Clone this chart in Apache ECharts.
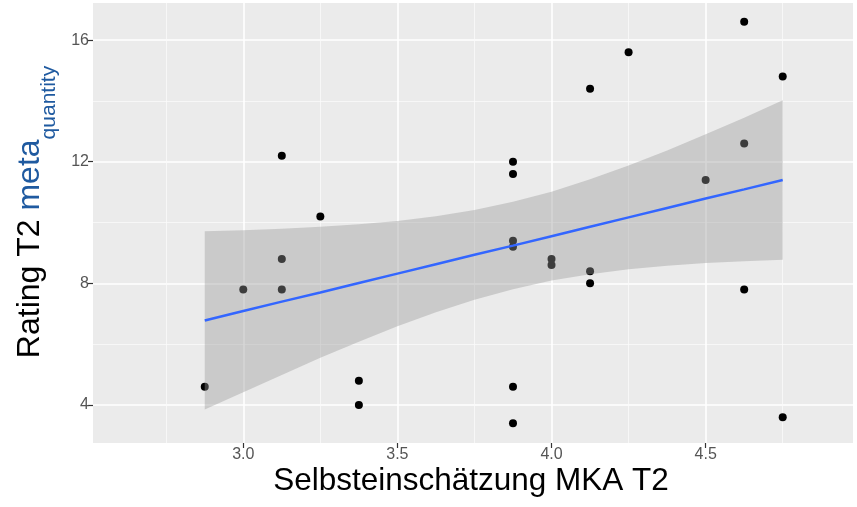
<!DOCTYPE html>
<html>
<head>
<meta charset="utf-8">
<script src="https://cdn.jsdelivr.net/npm/echarts@6/dist/echarts.min.js"></script>
<style>
  html, body { margin: 0; padding: 0; background: #fff; }
  #chart { width: 857px; height: 507px; }
</style>
</head>
<body>
<div id="chart"></div>
<script>
// raw observations (Selbsteinschätzung vs. Rating)
const selfRating = [2.875, 3.0, 3.125, 3.125, 3.125, 3.25, 3.375, 3.375,
  3.875, 3.875, 3.875, 3.875, 3.875, 3.875, 4.0, 4.0, 4.125, 4.125, 4.125,
  4.25, 4.5, 4.625, 4.625, 4.625, 4.75, 4.75];
const ratingT2 = [4.6, 7.8, 12.2, 8.8, 7.8, 10.2, 4.8, 4.0,
  12.0, 11.6, 9.4, 9.2, 4.6, 3.4, 8.8, 8.6, 14.4, 8.4, 8.0,
  15.6, 11.4, 16.6, 12.6, 7.8, 14.8, 3.6];

// regression line + confidence band
const fitX = [2.875, 3.0, 3.125, 3.25, 3.375, 3.5, 3.625, 3.75, 3.875, 4.0, 4.125, 4.25, 4.375, 4.5, 4.625, 4.75];
const fitY = [6.78, 7.09, 7.40, 7.70, 8.01, 8.32, 8.63, 8.94, 9.24, 9.55, 9.86, 10.17, 10.48, 10.79, 11.09, 11.40];
const bandLower = [3.85, 4.42, 4.99, 5.55, 6.08, 6.59, 7.05, 7.46, 7.81, 8.09, 8.30, 8.46, 8.58, 8.67, 8.73, 8.78];
const bandUpper = [9.71, 9.75, 9.80, 9.86, 9.94, 10.05, 10.21, 10.41, 10.68, 11.01, 11.42, 11.88, 12.37, 12.90, 13.45, 14.02];

const xMajor = [3.0, 3.5, 4.0, 4.5];
const xMinor = [2.75, 3.25, 3.75, 4.25, 4.75];
const yMajor = [4, 8, 12, 16];
const yMinor = [6, 10, 14];

const chart = echarts.init(document.getElementById('chart'));

const FONT = '"Liberation Sans", Arial, sans-serif';
const xRange = { min: 2.5125, max: 4.978 };
const yRange = { min: 2.75, max: 17.22 };

const majorAxis = (custom, fmt) => ({
  type: 'value',
  ...custom.range,
  axisLine: { show: false },
  axisTick: { show: true, customValues: custom.ticks, length: 5, lineStyle: { color: '#333', width: 1.2 } },
  axisLabel: { customValues: custom.ticks, formatter: fmt, color: '#555', fontSize: 16, fontFamily: FONT, margin: 4 },
  splitLine: { show: true, lineStyle: { color: '#fff', width: 1.6 } }
});
const minorAxis = (custom) => ({
  type: 'value',
  ...custom.range,
  axisLine: { show: false },
  axisTick: { show: false, customValues: custom.ticks },
  axisLabel: { show: false, customValues: custom.ticks },
  splitLine: { show: true, lineStyle: { color: '#fafafa', width: 0.8 } }
});

const points = selfRating.map((x, i) => [x, ratingT2[i]]);
const fitLine = fitX.map((x, i) => [x, fitY[i]]);

chart.setOption({
  animation: false,
  backgroundColor: '#fff',
  grid: {
    left: 93, right: 4, top: 3, bottom: 64,
    show: true, backgroundColor: '#ebebeb', borderWidth: 0
  },
  xAxis: [
    majorAxis({ range: xRange, ticks: xMajor }, v => v.toFixed(1)),
    minorAxis({ range: xRange, ticks: xMinor })
  ],
  yAxis: [
    majorAxis({ range: yRange, ticks: yMajor }, v => String(v)),
    minorAxis({ range: yRange, ticks: yMinor })
  ],
  series: [
    {
      type: 'scatter',
      data: points,
      symbolSize: 8,
      itemStyle: { color: '#000', opacity: 1 },
      z: 2
    },
    {
      type: 'custom',
      data: [[fitX[0], bandLower[0]]],
      renderItem: (params, api) => {
        const upper = fitX.map((x, i) => api.coord([x, bandUpper[i]]));
        const lower = fitX.map((x, i) => api.coord([x, bandLower[i]])).reverse();
        return {
          type: 'polygon',
          shape: { points: upper.concat(lower) },
          style: { fill: 'rgba(153,153,153,0.4)', stroke: null }
        };
      },
      silent: true,
      z: 3
    },
    {
      type: 'line',
      data: fitLine,
      showSymbol: false,
      lineStyle: { color: '#3366ff', width: 2.5 },
      z: 4
    }
  ],
  graphic: [
    {
      type: 'text',
      x: 471, y: 481,
      style: {
        text: 'Selbsteinschätzung MKA T2',
        fontSize: 31.5, fontFamily: FONT, fill: '#000',
        align: 'center', verticalAlign: 'middle'
      }
    },
    {
      type: 'text',
      x: 30, y: 212,
      rotation: Math.PI / 2,
      style: {
        text: '{a|Rating T2 }{b|meta}{c|quantity}',
        align: 'center', verticalAlign: 'middle',
        rich: {
          a: { fontSize: 32, fontFamily: FONT, fill: '#000', lineHeight: 40 },
          b: { fontSize: 32, fontFamily: FONT, fill: '#1f5aa0', lineHeight: 40 },
          c: { fontSize: 21, fontFamily: FONT, fill: '#1f5aa0', padding: [38, 0, 0, 0] }
        }
      }
    }
  ]
});
</script>
</body>
</html>
